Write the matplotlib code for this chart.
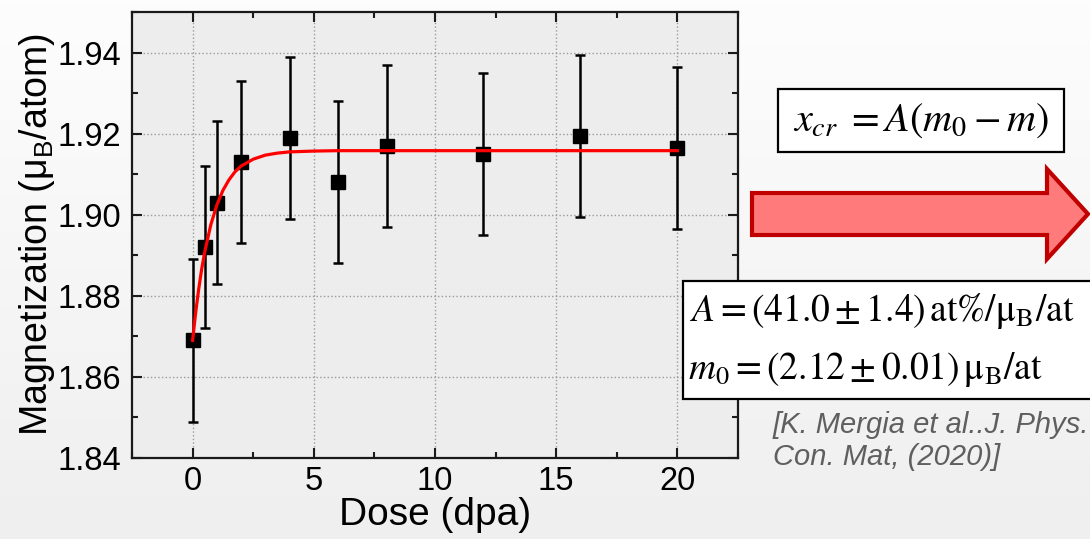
import numpy as np
import matplotlib
matplotlib.use("Agg")
import matplotlib.pyplot as plt
from matplotlib.patches import Rectangle, Polygon
from matplotlib.colors import LinearSegmentedColormap
from matplotlib.ticker import MultipleLocator

plt.rcParams['font.family'] = ['Liberation Sans', 'DejaVu Sans']

# measured points (dose in dpa, magnetization in muB/atom, error)
dose = [0, 0.5, 1, 2, 4, 6, 8, 12, 16, 20]
magn = [1.869, 1.892, 1.903, 1.913, 1.919, 1.908, 1.917, 1.915, 1.9195, 1.9165]
magn_err = [0.02, 0.02, 0.02, 0.02, 0.02, 0.02, 0.02, 0.02, 0.02, 0.02]

# red fit curve
fit_x = [0, 0.125, 0.25, 0.375, 0.5, 0.75, 1, 1.25, 1.5, 1.75, 2, 2.5, 3, 3.5, 4, 5, 6, 20]
fit_y = [1.869, 1.8758, 1.8816, 1.8866, 1.8908, 1.8975, 1.9024, 1.9060, 1.9086, 1.9106,
         1.9120, 1.9137, 1.9147, 1.9152, 1.9155, 1.9157, 1.9158, 1.9158]

xticks = [0, 5, 10, 15, 20]
yticks = [1.84, 1.86, 1.88, 1.90, 1.92, 1.94]

W, H = 1090, 539
fig = plt.figure(figsize=(W / 100, H / 100), dpi=100)

# soft background gradient
bg = fig.add_axes([0, 0, 1, 1], zorder=-1)
cmap = LinearSegmentedColormap.from_list('bg', ['#fdfdfd', '#efefef'])
bg.imshow(np.linspace(0, 1, 100)[:, None], aspect='auto', cmap=cmap, extent=[0, 1, 0, 1])
bg.axis('off')

def fx(px):
    return px / W

def fy(py):
    return 1 - py / H

ax = fig.add_axes([fx(132), fy(458), fx(738) - fx(132), fy(12) - fy(458)])
ax.set_facecolor('#ededed')

ax.errorbar(dose, magn, yerr=magn_err, fmt='s', color='black', markersize=9.5,
            elinewidth=1.8, capsize=3.3, capthick=1.8, zorder=3)
ax.plot(fit_x, fit_y, color='#ff0000', lw=2.3, zorder=4)

ax.set_xlim(-2.5, 22.5)
ax.set_ylim(1.84, 1.95)
ax.set_xticks(xticks)
ax.set_yticks(yticks)
ax.set_yticklabels(['%.2f' % v for v in yticks])
ax.xaxis.set_minor_locator(MultipleLocator(2.5))
ax.yaxis.set_minor_locator(MultipleLocator(0.01))
ax.tick_params(which='both', direction='in', top=True, right=True, width=1.5,
               color='#1a1a1a', labelsize=23.5)
ax.tick_params(which='major', length=7)
ax.tick_params(which='minor', length=4)
ax.tick_params(axis='y', pad=8)
ax.tick_params(axis='x', pad=6)
ax.grid(True, which='major', linestyle=':', color='#9a9a9a', lw=1)
for s in ax.spines.values():
    s.set_linewidth(1.6)
    s.set_color('#1a1a1a')

ax.set_xlabel('Dose (dpa)', fontsize=28, labelpad=0)
ax.set_ylabel(r'Magnetization ($\mathregular{\mu_B}$/atom)', fontsize=27, labelpad=0)

# formula box
fig.patches.append(Rectangle((fx(778), fy(152)), fx(1064) - fx(778), fy(89) - fy(152),
                             transform=fig.transFigure, facecolor='white',
                             edgecolor='black', lw=1.6))
fig.text(fx(921), fy(121), r'$x_{cr}\;=A(m_0-m)$', fontsize=29,
         math_fontfamily='stix', ha='center', va='center')

# block arrow
arrow_px = [(752, 193), (1047, 193), (1047, 169), (1088, 214), (1047, 259),
            (1047, 235), (752, 235)]
fig.patches.append(Polygon([(fx(a), fy(b)) for a, b in arrow_px], closed=True,
                           transform=fig.transFigure, facecolor='#ff7b7b',
                           edgecolor='#c00000', lw=3, joinstyle='miter'))

# fit result box
fig.patches.append(Rectangle((fx(683), fy(399)), fx(1100) - fx(683), fy(281) - fy(399),
                             transform=fig.transFigure, facecolor='white',
                             edgecolor='black', lw=1.6))
fig.text(fx(690), fy(321), r'$A=(41.0\pm1.4)\,\mathrm{at\%}/\mathrm{\mu_B/at}$',
         fontsize=27, math_fontfamily='stix', ha='left', va='baseline')
fig.text(fx(688), fy(379), r'$m_0=(2.12\pm0.01)\,\mathrm{\mu_B/at}$',
         fontsize=27, math_fontfamily='stix', ha='left', va='baseline')

fig.text(fx(773), fy(433), '[K. Mergia et al..J. Phys.', fontsize=21,
         style='italic', color='#5f5f5f', ha='left', va='baseline')
fig.text(fx(773), fy(465), 'Con. Mat, (2020)]', fontsize=21,
         style='italic', color='#5f5f5f', ha='left', va='baseline')

fig.savefig('out.png', dpi=100)
